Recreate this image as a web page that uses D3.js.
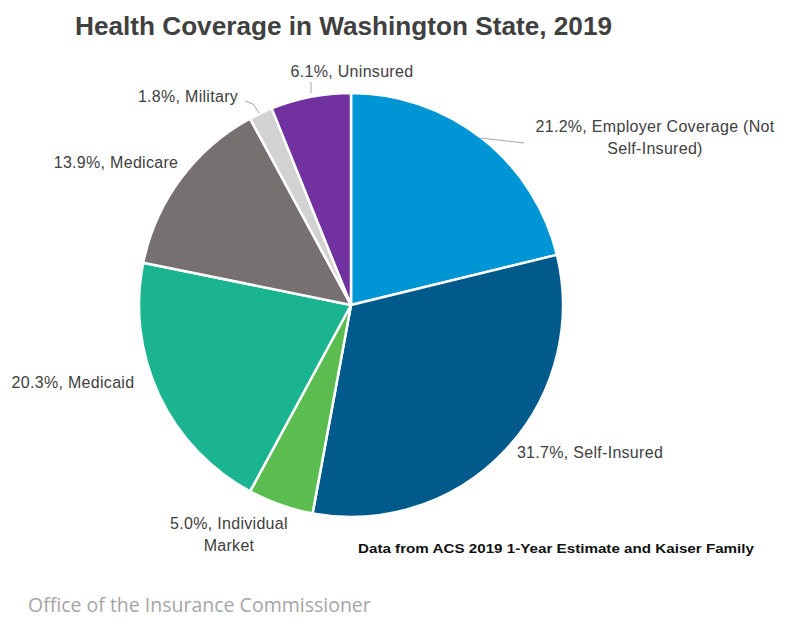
<!DOCTYPE html>
<html><head><meta charset="utf-8">
<script src="https://cdn.jsdelivr.net/npm/d3@7"></script>
<style>body{margin:0;background:#fff}svg{display:block}</style>
</head><body>
<svg id="c" width="799" height="620"></svg>
<script>
const categories = ["Employer Coverage (Not Self-Insured)","Self-Insured","Individual Market","Medicaid","Medicare","Military","Uninsured"];
const values = [21.2, 31.7, 5.0, 20.3, 13.9, 1.8, 6.1];
const colors = ["#0096d6","#005a8b","#5bbd4f","#1bb491","#767170","#d2d2d2","#7131a0"];
const labelLines = [
  ["21.2%, Employer Coverage (Not","Self-Insured)"],
  ["31.7%, Self-Insured"],
  ["5.0%, Individual","Market"],
  ["20.3%, Medicaid"],
  ["13.9%, Medicare"],
  ["1.8%, Military"],
  ["6.1%, Uninsured"]
];
const labelPos = [[655,132],[590,458],[229,529],[73,388],[116,168],[188,102],[352,77]];
const leaders = [[[481,138],[524,143]],null,null,null,null,[[245,101],[253,104],[259,113]],[[311,82],[311,93]]];

const svg = d3.select("#c");
const cx = 351, cy = 305, R = 212;
const pie = d3.pie().sort(null).value(d=>d)(values);
const arc = d3.arc().innerRadius(0).outerRadius(R);
const g = svg.append("g").attr("transform",`translate(${cx},${cy})`);
g.selectAll("path").data(pie).join("path")
  .attr("d",arc).attr("fill",(d,i)=>colors[i])
  .attr("stroke","#fff").attr("stroke-width",2.5).attr("stroke-linejoin","round");

const line = d3.line();
leaders.forEach(l=>{ if(l) svg.append("path").attr("d",line(l)).attr("fill","none").attr("stroke","#a6a6a6").attr("stroke-width",1); });

const font = "'Liberation Sans',Arial,sans-serif";
labelLines.forEach((ls,i)=>{
  const t = svg.append("text").attr("x",labelPos[i][0]).attr("y",labelPos[i][1])
    .attr("text-anchor","middle").attr("font-family",font).attr("font-size",16)
    .attr("letter-spacing",0.3).attr("fill","#404040");
  ls.forEach((s,j)=>t.append("tspan").attr("x",labelPos[i][0]).attr("dy",j?22:0).text(s));
});

svg.append("text").attr("x",75).attr("y",35).attr("font-family",font).attr("font-weight","bold")
  .attr("font-size",25).attr("fill","#404040")
  .attr("textLength",537).attr("lengthAdjust","spacingAndGlyphs")
  .text("Health Coverage in Washington State, 2019");
svg.append("text").attr("x",358).attr("y",553).attr("font-family",font)
  .attr("font-weight","bold").attr("font-size",13.5).attr("fill","#111")
  .attr("textLength",396).attr("lengthAdjust","spacingAndGlyphs")
  .text("Data from ACS 2019 1-Year Estimate and Kaiser Family");
svg.append("text").attr("x",28).attr("y",612).attr("font-family","'Open Sans','Noto Sans',sans-serif")
  .attr("font-size",19.5).attr("fill","#a6a6a6").text("Office of the Insurance Commissioner");
</script>
</body></html>
